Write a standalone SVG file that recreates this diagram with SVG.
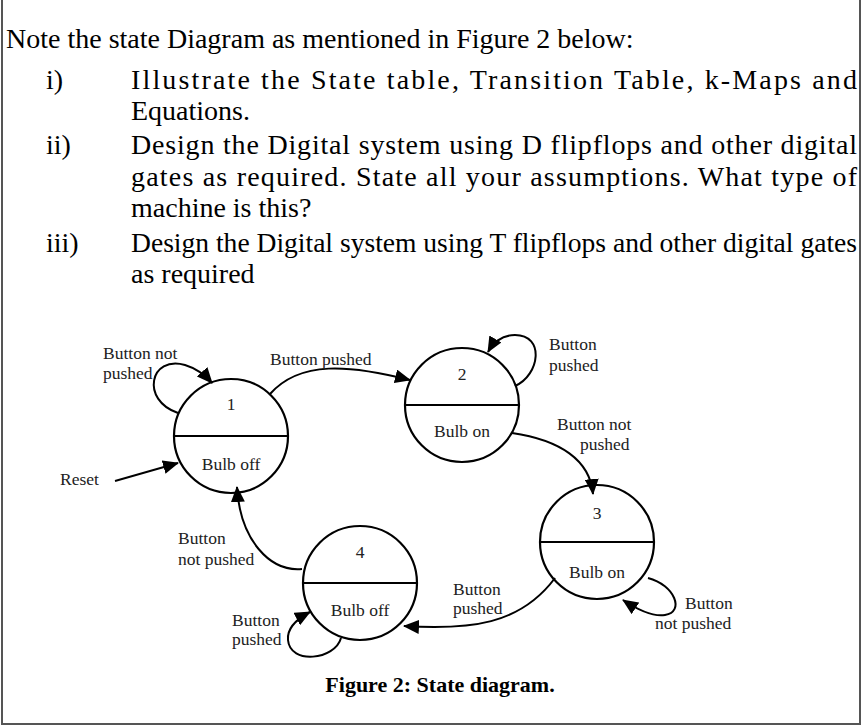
<svg xmlns="http://www.w3.org/2000/svg" width="864" height="726" viewBox="0 0 864 726">
<style>
.t{font-family:"Liberation Serif",serif;font-size:28px;fill:#000}
.s{font-family:"Liberation Serif",serif;font-size:17.5px;fill:#222}
.c{fill:none;stroke:#000;stroke-width:2.2}
.e{fill:none;stroke:#000;stroke-width:2}
</style>
<defs><marker id="b" markerWidth="16" markerHeight="14" refX="15" refY="7" orient="auto" markerUnits="userSpaceOnUse" viewBox="0 0 16 14"><path d="M0,0L16,7L0,14z" fill="#000"/></marker></defs>
<rect width="864" height="726" fill="#fff"/>
<path d="M2,0V724H860V0" fill="none" stroke="#555" stroke-width="2"/>
<text class="t" x="6" y="48">Note the state Diagram as mentioned in Figure 2 below:</text>
<text class="t" x="46" y="89">i)</text>
<text class="t" x="131" y="89" textLength="726" lengthAdjust="spacing">Illustrate the State table, Transition Table, k-Maps and</text>
<text class="t" x="131" y="120">Equations.</text>
<text class="t" x="46" y="154">ii)</text>
<text class="t" x="131" y="154" textLength="726" lengthAdjust="spacing">Design the Digital system using D flipflops and other digital</text>
<text class="t" x="131" y="186" textLength="726" lengthAdjust="spacing">gates as required. State all your assumptions. What type of</text>
<text class="t" x="131" y="217">machine is this?</text>
<text class="t" x="46" y="252">iii)</text>
<text class="t" x="131" y="252" textLength="726" lengthAdjust="spacingAndGlyphs">Design the Digital system using T flipflops and other digital gates</text>
<text class="t" x="131" y="283">as required</text>
<g id="n1"><circle class="c" cx="231" cy="436" r="57"/><line class="c" x1="174" y1="436" x2="288" y2="436"/><text class="s" x="231" y="410" text-anchor="middle">1</text><text class="s" x="231" y="470" text-anchor="middle">Bulb off</text></g>
<g id="n2"><circle class="c" cx="462" cy="405" r="57"/><line class="c" x1="405" y1="405" x2="519" y2="405"/><text class="s" x="462" y="380" text-anchor="middle">2</text><text class="s" x="462" y="437" text-anchor="middle">Bulb on</text></g>
<g id="n3"><circle class="c" cx="597" cy="542" r="57"/><line class="c" x1="540" y1="542" x2="654" y2="542"/><text class="s" x="597" y="519" text-anchor="middle">3</text><text class="s" x="597" y="578" text-anchor="middle">Bulb on</text></g>
<g id="n4"><circle class="c" cx="360" cy="583" r="57"/><line class="c" x1="303" y1="583" x2="417" y2="583"/><text class="s" x="360" y="558" text-anchor="middle">4</text><text class="s" x="360" y="616" text-anchor="middle">Bulb off</text></g>
<g id="edges">
<path class="e" d="M178,413 C140,400 150,355 185,365 C195,368 205,375 212,383" marker-end="url(#b)"/>
<path class="e" d="M270,394 C300,360 350,365 410,380" marker-end="url(#b)"/>
<path class="e" d="M115,481 L178,463" marker-end="url(#b)"/>
<path class="e" d="M515,386 C540,375 545,335 515,335 C500,335 492,345 488,352" marker-end="url(#b)"/>
<path class="e" d="M512,433 C560,440 590,460 593,494" marker-end="url(#b)"/>
<path class="e" d="M555,578 C520,625 470,630 404,626" marker-end="url(#b)"/>
<path class="e" d="M302,569 C270,572 240,540 237,487" marker-end="url(#b)"/>
<path class="e" d="M341,638 C335,660 290,665 288,640 C287,630 295,620 310,612" marker-end="url(#b)"/>
<path class="e" d="M648,578 C675,585 685,612 665,615 C652,617 638,610 623,600" marker-end="url(#b)"/>
</g>
<text class="s" x="103" y="359">Button not</text><text class="s" x="103" y="379">pushed</text>
<text class="s" x="270" y="365">Button pushed</text>
<text class="s" x="60" y="485">Reset</text>
<text class="s" x="549" y="350">Button</text><text class="s" x="549" y="371">pushed</text>
<text class="s" x="557" y="430">Button not</text><text class="s" x="580" y="450">pushed</text>
<text class="s" x="178" y="544">Button</text><text class="s" x="178" y="565">not pushed</text>
<text class="s" x="453" y="595">Button</text><text class="s" x="453" y="614">pushed</text>
<text class="s" x="232" y="626">Button</text><text class="s" x="232" y="645">pushed</text>
<text class="s" x="685" y="609">Button</text><text class="s" x="655" y="629">not pushed</text>
<text x="440" y="692" text-anchor="middle" style="font-family:'Liberation Serif',serif;font-size:22px;font-weight:bold">Figure 2: State diagram.</text>
</svg>
